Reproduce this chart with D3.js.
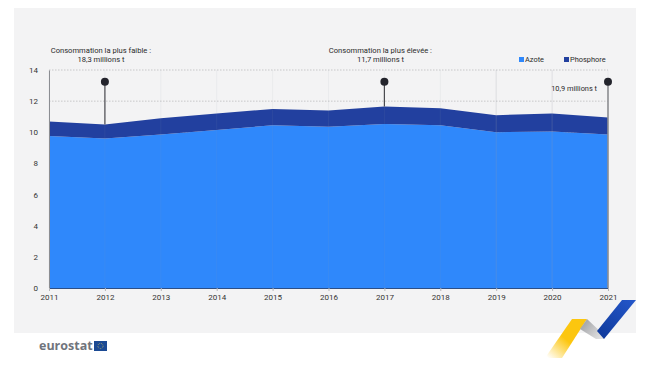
<!DOCTYPE html>
<html>
<head>
<meta charset="utf-8">
<script src="https://cdn.jsdelivr.net/npm/d3@7"></script>
<style>
body { margin: 0; background: #fff; }
text { font-family: Roboto, sans-serif; }
</style>
</head>
<body>
<div id="wrapper"></div>
<script>
const years = [2011, 2012, 2013, 2014, 2015, 2016, 2017, 2018, 2019, 2020, 2021]
const azote = [9.76, 9.6, 9.85, 10.15, 10.45, 10.35, 10.53, 10.45, 10.0, 10.05, 9.85]
const phosphore = [0.94, 0.9, 1.05, 1.05, 1.05, 1.05, 1.12, 1.1, 1.1, 1.15, 1.1]
const seriesNames = ["Azote", "Phosphore"]
const seriesColors = ["#2f88fb", "#22409f"]
const yTicks = [0, 2, 4, 6, 8, 10, 12, 14]
const pinYears = [2012, 2017, 2021]
const pinHeadValue = 13.25

let dimensions = {
    width: 650,
    height: 366,
    margin: { top: 70, right: 42, bottom: 78, left: 49 },
}
dimensions.boundedWidth = dimensions.width - dimensions.margin.left - dimensions.margin.right
dimensions.boundedHeight = dimensions.height - dimensions.margin.top - dimensions.margin.bottom

const wrapper = d3.select("#wrapper")
    .append("svg")
        .attr("width", dimensions.width)
        .attr("height", dimensions.height)
        .style("display", "block")

// grey panel behind the chart
wrapper.append("rect")
    .attr("x", 14).attr("y", 8)
    .attr("width", 622).attr("height", 325)
    .attr("fill", "#f3f3f4")

const bounds = wrapper.append("g")
    .attr("transform", `translate(${dimensions.margin.left}, ${dimensions.margin.top})`)

const xScale = d3.scaleLinear()
    .domain(d3.extent(years))
    .range([0, dimensions.boundedWidth])

const yScale = d3.scaleLinear()
    .domain([0, 14])
    .range([dimensions.boundedHeight, 0])

// horizontal and vertical grid
bounds.append("g").selectAll("line")
    .data(yTicks.filter(d => d > 0))
    .join("line")
        .attr("x1", 0)
        .attr("x2", dimensions.boundedWidth)
        .attr("y1", d => yScale(d))
        .attr("y2", d => yScale(d))
        .attr("stroke", "#b4b4b6")
        .attr("stroke-width", 0.7)
        .attr("stroke-dasharray", "1.5 1.5")

const tableRows = years.map((y, i) => ({ year: y, Azote: azote[i], Phosphore: phosphore[i] }))
const stacked = d3.stack().keys(seriesNames)(tableRows)

const areaGenerator = d3.area()
    .x(d => xScale(d.data.year))
    .y0(d => yScale(d[0]))
    .y1(d => yScale(d[1]))

bounds.append("g").selectAll("path")
    .data(stacked)
    .join("path")
        .attr("d", areaGenerator)
        .attr("fill", (d, i) => seriesColors[i])

// the 2019 and 2020 lines are a little stronger in the picture
bounds.append("g").selectAll("line")
    .data(years)
    .join("line")
        .attr("x1", d => xScale(d))
        .attr("x2", d => xScale(d))
        .attr("y1", 0)
        .attr("y2", dimensions.boundedHeight)
        .attr("stroke", "#9aa0aa")
        .attr("stroke-opacity", d => d == 2019 || d == 2020 ? 0.3 : 0.12)
        .attr("stroke-width", 0.8)

// axes
const yAxis = bounds.append("g")
    .call(d3.axisLeft(yScale).tickValues(yTicks).tickSize(0).tickPadding(11))
yAxis.select(".domain").attr("stroke", "#8b8d92").attr("stroke-width", 1)
yAxis.selectAll("text").attr("font-size", 8).attr("fill", "#333")

const xAxis = bounds.append("g")
    .attr("transform", `translate(0, ${dimensions.boundedHeight})`)
    .call(d3.axisBottom(xScale).tickValues(years).tickFormat(d3.format("d")).tickSize(3).tickPadding(3))
xAxis.select(".domain").attr("stroke", "#2d4f86").attr("stroke-width", 1)
xAxis.selectAll("line").attr("stroke", "#b5b5b8")
xAxis.selectAll("text").attr("font-size", 8).attr("fill", "#333")

// pins on lowest, highest and last year
const totalOf = year => {
    const i = years.indexOf(year)
    return azote[i] + phosphore[i]
}
bounds.append("g").selectAll("line")
    .data(pinYears)
    .join("line")
        .attr("x1", d => xScale(d))
        .attr("x2", d => xScale(d))
        .attr("y1", yScale(pinHeadValue))
        .attr("y2", d => d == 2021 ? dimensions.boundedHeight : yScale(totalOf(d)))
        .attr("stroke", d => d == 2021 ? "#8d8e92" : "#4a4b50")
        .attr("stroke-width", d => d == 2021 ? 1.6 : 1.2)

bounds.append("g").selectAll("circle")
    .data(pinYears)
    .join("circle")
        .attr("cx", d => xScale(d))
        .attr("cy", yScale(pinHeadValue))
        .attr("r", 4)
        .attr("fill", "#23242c")

// annotations
const noteData = [
    { year: 2012, lines: ["Consommation la plus faible :", "18,3 millions t"] },
    { year: 2017, lines: ["Consommation la plus élevée :", "11,7 millions t"] },
]
noteData.forEach(note => {
    note.lines.forEach((txt, i) => {
        bounds.append("text")
            .attr("x", xScale(note.year) - 4)
            .attr("y", -17 + i * 9)
            .attr("text-anchor", "middle")
            .attr("font-size", 7.6)
            .attr("fill", "#2a2a2a")
            .text(txt)
    })
})
bounds.append("text")
    .attr("x", xScale(2021) - 11)
    .attr("y", 21)
    .attr("text-anchor", "end")
    .attr("font-size", 7.4)
    .attr("fill", "#2a2a2a")
    .text("10,9 millions t")

// legend
const legendX = [519, 564]
const legend = wrapper.append("g")
seriesNames.forEach((name, i) => {
    legend.append("rect")
        .attr("x", legendX[i]).attr("y", 57)
        .attr("width", 5).attr("height", 5)
        .attr("fill", seriesColors[i])
    legend.append("text")
        .attr("x", legendX[i] + 6).attr("y", 61.5)
        .attr("font-size", 7.4)
        .attr("fill", "#2a2a2a")
        .text(name)
})

// eurostat logo
wrapper.append("text")
    .attr("x", 39).attr("y", 350)
    .attr("font-size", 12.5)
    .attr("font-weight", 700)
    .style("font-family", "'Open Sans', sans-serif")
    .attr("fill", "#70747c")
    .text("eurostat")
wrapper.append("rect")
    .attr("x", 94).attr("y", 341)
    .attr("width", 13).attr("height", 10)
    .attr("fill", "#1b4a94")
wrapper.append("circle")
    .attr("cx", 100.5).attr("cy", 346).attr("r", 2.6)
    .attr("fill", "none")
    .attr("stroke", "#e8d25a")
    .attr("stroke-width", 0.7)
    .attr("stroke-dasharray", "0.8 1")

// arrow mark bottom right
const defs = wrapper.append("defs")
const addGradient = (id, x1, y1, x2, y2, stops) => {
    const g = defs.append("linearGradient")
        .attr("id", id)
        .attr("gradientUnits", "userSpaceOnUse")
        .attr("x1", x1).attr("y1", y1).attr("x2", x2).attr("y2", y2)
    stops.forEach(s => g.append("stop").attr("offset", s[0]).attr("stop-color", s[1]).attr("stop-opacity", s[2]))
}
addGradient("yellowGrad", 582, 319, 548, 358, [[0, "#fcc60f", 1], [0.5, "#fcc60f", 1], [1, "#fcc60f", 0]])
addGradient("greyGrad", 584, 325, 603, 340, [[0, "#a9aaad", 1], [1, "#e6e6e6", 0.9]])
addGradient("blueGrad", 632, 300, 602, 338, [[0, "#2456c8", 1], [1, "#0f3a9c", 1]])

wrapper.append("path")
    .attr("d", "M572,319 L587,319 L562,358 L545,358 Z")
    .attr("fill", "url(#yellowGrad)")
wrapper.append("path")
    .attr("d", "M587,319 L604,335 L604,339 L596,339 L580,329 Z")
    .attr("fill", "url(#greyGrad)")
wrapper.append("path")
    .attr("d", "M622,300 L636,300 L604,339 L597,331 Z")
    .attr("fill", "url(#blueGrad)")
</script>
</body>
</html>
